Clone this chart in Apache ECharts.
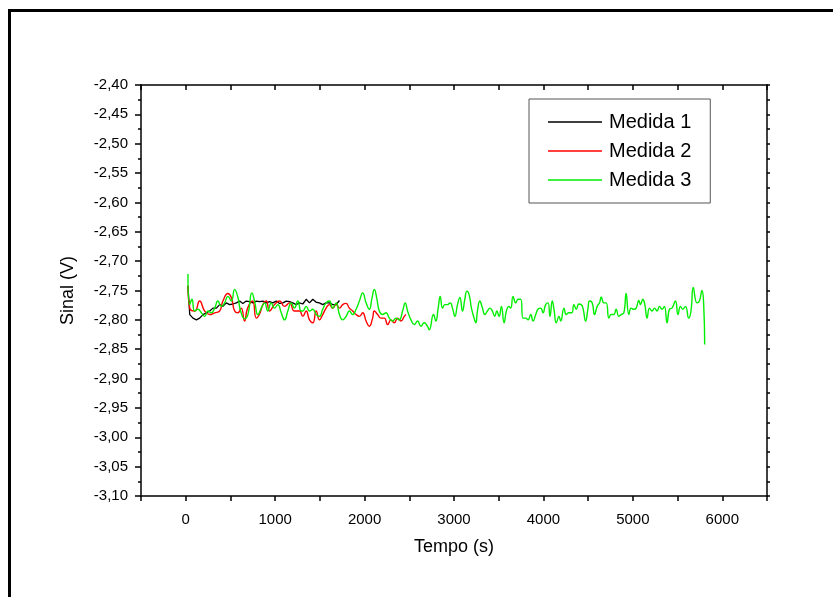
<!DOCTYPE html>
<html>
<head>
<meta charset="utf-8">
<script src="https://cdn.jsdelivr.net/npm/echarts@6/dist/echarts.min.js"></script>
<style>
  html, body { margin: 0; padding: 0; background: #fff; }
  #chart { width: 833px; height: 597px; }
</style>
</head>
<body>
<div id="chart"></div>
<script>
// Series names
var seriesNames = ['Medida 1', 'Medida 2', 'Medida 3'];

// [tempo (s), sinal (V)]
var medida1 = [
  [25,-2.742],[45,-2.791],[81,-2.797],[119,-2.800],[156,-2.797],[193,-2.791],[231,-2.788],[268,-2.785],
  [305,-2.780],[343,-2.780],[379,-2.774],[416,-2.777],[454,-2.771],[491,-2.774],[528,-2.773],[566,-2.771],
  [603,-2.768],[639,-2.772],[677,-2.768],[714,-2.769],[751,-2.771],[789,-2.768],[826,-2.769],[863,-2.768],
  [901,-2.771],[937,-2.769],[974,-2.771],[1012,-2.768],[1049,-2.772],[1086,-2.771],[1124,-2.768],[1161,-2.769],
  [1197,-2.771],[1235,-2.774],[1272,-2.771],[1309,-2.773],[1347,-2.765],[1384,-2.771],[1421,-2.765],[1459,-2.770],
  [1495,-2.771],[1532,-2.774],[1570,-2.771],[1607,-2.771],[1644,-2.774],[1682,-2.774],[1719,-2.767]
];

var medida2 = [
  [25,-2.742],[45,-2.780],[100,-2.785],[156,-2.768],[212,-2.785],[268,-2.791],[324,-2.788],[379,-2.785],
  [416,-2.768],[472,-2.755],[510,-2.762],[547,-2.785],[584,-2.788],[621,-2.780],[658,-2.802],[692,-2.780],
  [748,-2.768],[789,-2.797],[826,-2.790],[863,-2.774],[901,-2.768],[937,-2.785],[993,-2.774],[1049,-2.768],
  [1105,-2.777],[1161,-2.771],[1216,-2.785],[1272,-2.785],[1309,-2.794],[1347,-2.785],[1384,-2.800],[1421,-2.805],
  [1459,-2.785],[1495,-2.800],[1532,-2.791],[1570,-2.780],[1607,-2.774],[1644,-2.780],[1682,-2.774],[1719,-2.780],
  [1755,-2.774],[1793,-2.772],[1830,-2.780],[1867,-2.785],[1905,-2.791],[1942,-2.794],[1979,-2.788],[2017,-2.802],
  [2053,-2.811],[2090,-2.797],[2109,-2.785],[2146,-2.791],[2183,-2.797],[2221,-2.797],[2258,-2.808],[2295,-2.800],
  [2332,-2.805],[2369,-2.797],[2407,-2.802],[2444,-2.794],[2463,-2.791]
];

var medida3 = [
  [25,-2.722],[45,-2.774],[70,-2.765],[100,-2.785],[137,-2.782],[175,-2.788],[212,-2.794],[249,-2.785],
  [287,-2.788],[324,-2.780],[360,-2.768],[398,-2.777],[435,-2.771],[472,-2.760],[510,-2.768],[547,-2.748],
  [584,-2.762],[614,-2.785],[658,-2.798],[695,-2.791],[740,-2.754],[770,-2.768],[807,-2.791],[845,-2.780],
  [882,-2.771],[918,-2.785],[956,-2.771],[993,-2.780],[1030,-2.774],[1068,-2.788],[1105,-2.800],[1142,-2.785],
  [1180,-2.771],[1216,-2.780],[1253,-2.768],[1291,-2.785],[1309,-2.785],[1347,-2.777],[1384,-2.785],[1421,-2.782],
  [1459,-2.791],[1495,-2.794],[1532,-2.782],[1570,-2.771],[1607,-2.768],[1644,-2.780],[1682,-2.771],[1719,-2.791],
  [1755,-2.800],[1793,-2.794],[1830,-2.785],[1867,-2.791],[1905,-2.782],[1942,-2.768],[1979,-2.754],[2017,-2.771],
  [2053,-2.782],[2084,-2.762],[2109,-2.748],[2135,-2.762],[2165,-2.785],[2202,-2.791],[2240,-2.788],[2277,-2.797],
  [2314,-2.802],[2351,-2.797],[2388,-2.800],[2425,-2.785],[2455,-2.771],[2481,-2.785],[2519,-2.800],[2556,-2.808],
  [2593,-2.802],[2630,-2.811],[2667,-2.805],[2704,-2.811],[2723,-2.817],[2771,-2.791],[2797,-2.802],[2823,-2.780],
  [2846,-2.760],[2872,-2.780],[2898,-2.774],[2927,-2.774],[2957,-2.771],[2983,-2.780],[3010,-2.794],[3039,-2.774],
  [3066,-2.762],[3095,-2.785],[3121,-2.765],[3144,-2.751],[3169,-2.757],[3195,-2.780],[3225,-2.797],[3244,-2.805],
  [3262,-2.785],[3289,-2.768],[3318,-2.780],[3345,-2.791],[3374,-2.785],[3401,-2.780],[3429,-2.785],[3456,-2.794],
  [3479,-2.785],[3504,-2.794],[3530,-2.777],[3560,-2.805],[3586,-2.785],[3613,-2.777],[3635,-2.780],[3660,-2.760],
  [3691,-2.771],[3716,-2.765],[3746,-2.765],[3772,-2.797],[3802,-2.797],[3828,-2.800],[3858,-2.791],[3884,-2.802],
  [3914,-2.791],[3939,-2.782],[3970,-2.780],[3995,-2.788],[4025,-2.774],[4051,-2.771],[4073,-2.794],[4099,-2.768],
  [4118,-2.782],[4144,-2.805],[4174,-2.794],[4193,-2.802],[4230,-2.780],[4255,-2.791],[4285,-2.788],[4316,-2.788],
  [4341,-2.774],[4367,-2.782],[4397,-2.773],[4422,-2.774],[4442,-2.780],[4472,-2.802],[4497,-2.782],[4516,-2.768],
  [4545,-2.771],[4572,-2.791],[4601,-2.777],[4628,-2.771],[4646,-2.761],[4676,-2.771],[4702,-2.771],[4732,-2.797],
  [4757,-2.791],[4787,-2.791],[4813,-2.782],[4843,-2.794],[4868,-2.791],[4899,-2.788],[4925,-2.755],[4955,-2.791],
  [4981,-2.780],[5011,-2.782],[5037,-2.780],[5067,-2.767],[5086,-2.774],[5111,-2.765],[5134,-2.774],[5159,-2.797],
  [5186,-2.780],[5215,-2.785],[5242,-2.780],[5271,-2.785],[5298,-2.777],[5327,-2.782],[5353,-2.777],[5382,-2.805],
  [5409,-2.782],[5438,-2.780],[5476,-2.768],[5505,-2.791],[5532,-2.777],[5558,-2.782],[5588,-2.777],[5625,-2.797],
  [5650,-2.785],[5676,-2.745],[5717,-2.771],[5744,-2.768],[5773,-2.750],[5792,-2.774],[5803,-2.842]
];

var seriesColors = ['#000000', '#ff0000', '#00ee00'];

var xMin = -500, xMax = 6500, xStep = 500;
var yMin = -3.10, yMax = -2.40, yStep = 0.05;

var FONT = 'Liberation Sans, Arial, sans-serif';

var chart = echarts.init(document.getElementById('chart'), null, { renderer: 'canvas' });

function xLabel(v) { return (Math.round(v) % 1000 === 0) ? String(Math.round(v)) : ''; }
function yLabel(v) { return v.toFixed(2).replace('.', ','); }

var option = {
  animation: false,
  backgroundColor: '#ffffff',
  graphic: [{
    type: 'rect',
    shape: { x: 9.5, y: 10.5, width: 900, height: 700 },
    style: { fill: 'none', stroke: '#000', lineWidth: 3 },
    silent: true, z: -10
  }],
  grid: { left: 141, right: 66, top: 85, bottom: 101, containLabel: false },
  legend: {
    orient: 'vertical',
    left: 529, top: 99,
    data: seriesNames,
    icon: 'rect',
    itemWidth: 54, itemHeight: 1.5, itemGap: 9,
    padding: [13, 19, 13, 19],
    borderColor: '#555', borderWidth: 1,
    textStyle: { fontFamily: FONT, fontSize: 20, color: '#000', lineHeight: 20, padding: [0, 0, 0, 2] }
  },
  xAxis: [{
    type: 'value', min: xMin, max: xMax, interval: xStep,
    position: 'bottom',
    name: 'Tempo (s)', nameLocation: 'middle', nameGap: 42,
    nameTextStyle: { fontFamily: FONT, fontSize: 18, color: '#000' },
    axisLine: { show: true, onZero: false, lineStyle: { color: '#000', width: 1.5 } },
    axisTick: { show: true, inside: false, length: 5, lineStyle: { color: '#000', width: 1.5 } },
    axisLabel: { fontFamily: FONT, fontSize: 15, color: '#000', margin: 16, formatter: xLabel, interval: 0 },
    splitLine: { show: false }
  }, {
    type: 'value', min: xMin, max: xMax, interval: xStep,
    position: 'top',
    axisLine: { show: true, onZero: false, lineStyle: { color: '#000', width: 1.5 } },
    axisTick: { show: true, inside: true, length: 5, lineStyle: { color: '#000', width: 1.5 } },
    axisLabel: { show: false },
    splitLine: { show: false }
  }],
  yAxis: [{
    type: 'value', min: yMin, max: yMax, interval: yStep,
    position: 'left',
    name: 'Sinal (V)', nameLocation: 'middle', nameGap: 64, nameRotate: 90,
    nameTextStyle: { fontFamily: FONT, fontSize: 18, color: '#000' },
    axisLine: { show: true, onZero: false, lineStyle: { color: '#000', width: 1.5 } },
    axisTick: { show: true, inside: false, length: 6, lineStyle: { color: '#000', width: 1.5 } },
    minorTick: { show: true, splitNumber: 2, length: 3, lineStyle: { color: '#000', width: 1.5 } },
    axisLabel: { fontFamily: FONT, fontSize: 15, color: '#000', margin: 13, formatter: yLabel },
    splitLine: { show: false }
  }, {
    type: 'value', min: yMin, max: yMax, interval: yStep,
    position: 'right',
    axisLine: { show: true, onZero: false, lineStyle: { color: '#000', width: 1.5 } },
    axisTick: { show: true, inside: false, length: 3, lineStyle: { color: '#000', width: 1.5 } },
    minorTick: { show: true, splitNumber: 2, length: 3, lineStyle: { color: '#000', width: 1.5 } },
    axisLabel: { show: false },
    splitLine: { show: false }
  }],
  series: [
    { name: seriesNames[0], type: 'line', data: medida1, symbol: 'none', smooth: false,
      lineStyle: { color: seriesColors[0], width: 1.3 }, itemStyle: { color: seriesColors[0] } },
    { name: seriesNames[1], type: 'line', data: medida2, symbol: 'none', smooth: 0.5,
      lineStyle: { color: seriesColors[1], width: 1.4 }, itemStyle: { color: seriesColors[1] } },
    { name: seriesNames[2], type: 'line', data: medida3, symbol: 'none', smooth: 0.5,
      lineStyle: { color: seriesColors[2], width: 1.4 }, itemStyle: { color: seriesColors[2] } }
  ]
};

chart.setOption(option);
</script>
</body>
</html>
